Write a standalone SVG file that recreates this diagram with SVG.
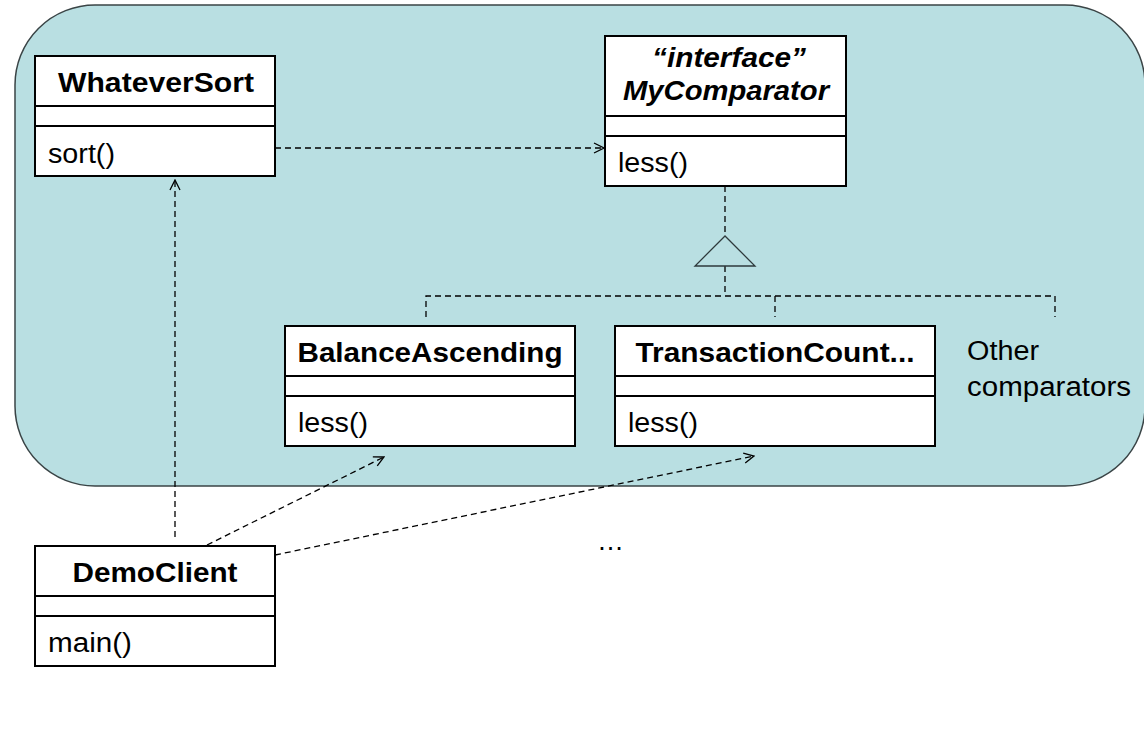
<svg xmlns="http://www.w3.org/2000/svg" width="1144" height="736" viewBox="0 0 1144 736">
<defs>
<style>
.bg{fill:#b9dfe2;stroke:#3a4446;stroke-width:1.5}
.box{fill:#ffffff;stroke:#000;stroke-width:2}
.sep{stroke:#000;stroke-width:2}
.title{font-family:"Liberation Sans",Arial,sans-serif;font-size:28px;font-weight:bold;text-anchor:middle;fill:#000}
.ital{font-style:italic}
.op{font-family:"Liberation Sans",Arial,sans-serif;font-size:27px;fill:#000}
.dash{fill:none;stroke:#000;stroke-width:1.3;stroke-dasharray:6,4}
.tri{fill:#b9dfe2;stroke:#2e3a3c;stroke-width:1.3}
</style>
<marker id="open" viewBox="0 0 12 12" refX="11" refY="6" markerWidth="12" markerHeight="12" markerUnits="userSpaceOnUse" orient="auto">
<path d="M1,1 L11,6 L1,11" fill="none" stroke="#000" stroke-width="1.3"/>
</marker>
</defs>
<rect x="0" y="0" width="1144" height="736" fill="#ffffff"/>
<rect class="bg" x="15" y="5" width="1130" height="481" rx="80" ry="80"/>

<g id="connectors">
<line class="dash" x1="275" y1="148" x2="604" y2="148" marker-end="url(#open)"/>
<line class="dash" x1="175" y1="537" x2="175" y2="180" marker-end="url(#open)"/>
<line class="dash" x1="207" y1="545" x2="384" y2="457" marker-end="url(#open)"/>
<line class="dash" x1="275" y1="555" x2="754" y2="456" marker-end="url(#open)"/>
<line class="dash" x1="725" y1="186" x2="725" y2="236"/>
<line class="dash" x1="725" y1="266" x2="725" y2="296"/>
<polyline class="dash" points="426,317 426,296 1055,296 1055,317"/>
<line class="dash" x1="775" y1="296" x2="775" y2="317"/>
<polygon class="tri" points="725,236 695,266 755,266"/>
</g>

<g id="WhateverSort">
<rect class="box" x="35" y="56" width="240" height="120"/>
<line class="sep" x1="35" y1="106" x2="275" y2="106"/>
<line class="sep" x1="35" y1="126" x2="275" y2="126"/>
<text class="title" x="156" y="92" textLength="196" lengthAdjust="spacingAndGlyphs">WhateverSort</text>
<text class="op" x="48" y="163" textLength="67" lengthAdjust="spacingAndGlyphs">sort()</text>
</g>

<g id="MyComparator">
<rect class="box" x="605" y="36" width="241" height="150"/>
<line class="sep" x1="605" y1="116" x2="846" y2="116"/>
<line class="sep" x1="605" y1="136" x2="846" y2="136"/>
<text class="title ital" x="729" y="67" textLength="154" lengthAdjust="spacingAndGlyphs">“interface”</text>
<text class="title ital" x="726" y="100" textLength="206" lengthAdjust="spacingAndGlyphs">MyComparator</text>
<text class="op" x="618" y="172" textLength="70" lengthAdjust="spacingAndGlyphs">less()</text>
</g>

<g id="BalanceAscending">
<rect class="box" x="285" y="326" width="290" height="120"/>
<line class="sep" x1="285" y1="376" x2="575" y2="376"/>
<line class="sep" x1="285" y1="396" x2="575" y2="396"/>
<text class="title" x="430" y="362" textLength="265" lengthAdjust="spacingAndGlyphs">BalanceAscending</text>
<text class="op" x="298" y="432" textLength="70" lengthAdjust="spacingAndGlyphs">less()</text>
</g>

<g id="TransactionCount">
<rect class="box" x="615" y="326" width="320" height="120"/>
<line class="sep" x1="615" y1="376" x2="935" y2="376"/>
<line class="sep" x1="615" y1="396" x2="935" y2="396"/>
<text class="title" x="775" y="362" textLength="279" lengthAdjust="spacingAndGlyphs">TransactionCount...</text>
<text class="op" x="628" y="432" textLength="70" lengthAdjust="spacingAndGlyphs">less()</text>
</g>

<g id="OtherComparators">
<text class="op" x="967" y="360" textLength="72" lengthAdjust="spacingAndGlyphs">Other</text>
<text class="op" x="967" y="396" textLength="164" lengthAdjust="spacingAndGlyphs">comparators</text>
</g>

<g id="DemoClient">
<rect class="box" x="35" y="546" width="240" height="120"/>
<line class="sep" x1="35" y1="596" x2="275" y2="596"/>
<line class="sep" x1="35" y1="616" x2="275" y2="616"/>
<text class="title" x="155" y="582" textLength="165" lengthAdjust="spacingAndGlyphs">DemoClient</text>
<text class="op" x="48" y="652" textLength="84" lengthAdjust="spacingAndGlyphs">main()</text>
</g>

<g id="ellipsis">
<text class="op" x="597" y="550">…</text>
</g>
</svg>
